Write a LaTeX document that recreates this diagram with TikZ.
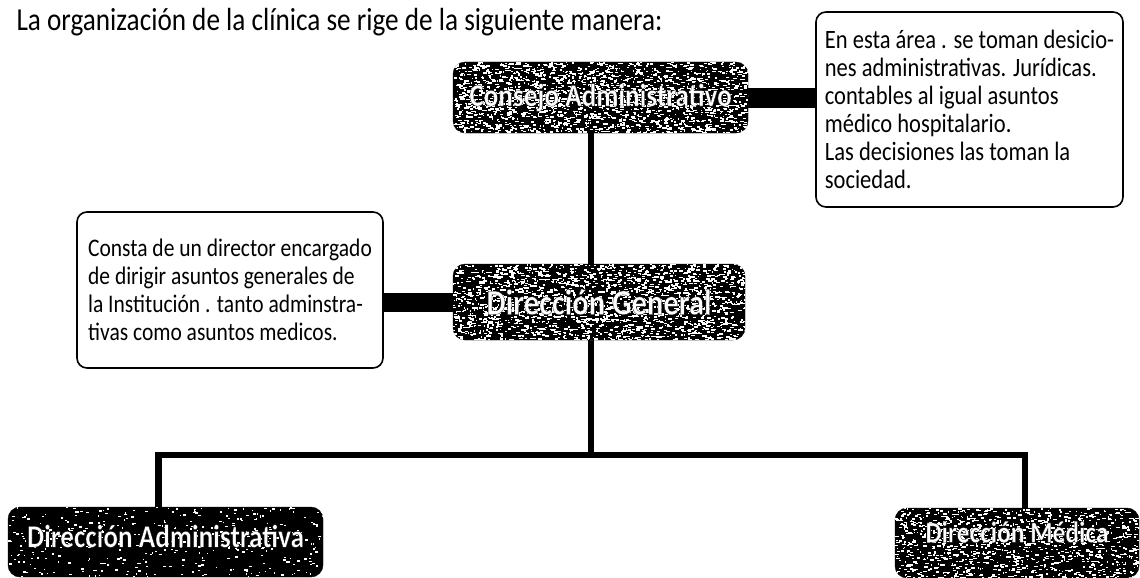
\documentclass[tikz,border=0pt]{standalone}
\usepackage{fontspec}
\setmainfont{Carlito}[FakeStretch=0.85]
\newfontfamily\boxfont{Carlito Bold}[FakeStretch=0.85, FakeBold=0.7]
\usetikzlibrary{backgrounds,calc}
\newcommand\mkspecks[4]{%
  \begin{scope}
    \clip[rounded corners=12pt] (#1.north west) rectangle (#1.south east);
    \pgfmathsetseed{#4}
    \path (#1.north west) coordinate (spkA) (#1.south east) coordinate (spkB);
    \foreach \spki in {1,...,#2}{%
      \pgfmathsetmacro\spkx{rnd}%
      \pgfmathsetmacro\spky{rnd}%
      \pgfmathsetmacro\spkw{0.8+rnd*#3}%
      \pgfmathsetmacro\spkh{0.7+rnd*1.4}%
      \fill[white] ($(spkA)!\spkx!(spkA -| spkB)$) ++(0,{\spky*(\spkyH)}) rectangle ++(\spkw,\spkh);
    }
  \end{scope}}
\begin{document}
\begin{tikzpicture}[x=1pt,y=-1pt,
  darkbox/.style n args={2}{draw=black, fill=black, rounded corners=12pt,
    minimum width=#1pt, minimum height=#2pt, inner sep=0pt},
  boxtext/.style={text=white, inner sep=0pt, font=\boxfont\fontsize{#1}{#1}\selectfont},
  notebox/.style n args={3}{draw=black, line width=1.6pt, fill=white, rounded corners=10pt,
    minimum width=#1pt, minimum height=#2pt, inner sep=0pt, align=left,
    font=\fontsize{#3}{28}\selectfont},
  bar/.style={line width=#1pt, draw=black},
  conn/.style={line width=6.5pt, draw=black, line join=miter}
]
\useasboundingbox (0,0) rectangle (1140,578);

\node[anchor=west, font=\fontsize{32}{34}\selectfont] (title) at (13,22)
  {La organización de la clínica se rige de la siguiente manera:};

\node[darkbox={295}{71}] (cons) at (600.5,97.5) {};
\node[darkbox={292}{76}] (dg) at (599,302) {};
\node[darkbox={315}{70}] (da) at (165.5,542) {};
\node[darkbox={244}{70}] (dm) at (1017,543) {};

\def\spkyH{71}\mkspecks{cons}{2000}{3.4}{11}
\def\spkyH{76}\mkspecks{dg}{2100}{3.4}{23}
\def\spkyH{70}\mkspecks{da}{380}{2.5}{37}
\def\spkyH{70}\mkspecks{dm}{1150}{3.2}{51}

\node[boxtext=32] (consT) at (cons) {\special{pdf:code 0 0 0 RG}Consejo Administrativo};
\node[boxtext=36] (dgT) at (dg) {\special{pdf:code 0 0 0 RG}Dirección General};
\node[boxtext=32] (daT) at ($(da)+(0,-6)$) {\special{pdf:code 0 0 0 RG}Dirección Administrativa};
\node[boxtext=30] (dmT) at ($(dm)+(0,-11)$) {\special{pdf:code 0 0 0 RG}Dirección Médica};

\node[notebox={307}{195}{26.5}] (rbox) at (969.5,109.5)
  {En esta área . se toman desicio-\\nes administrativas. Jurídicas.\\contables al igual asuntos\\médico hospitalario.\\Las decisiones las toman la\\sociedad.};
\node[notebox={306}{156}{25.3}] (lbox) at (230,290)
  {Consta de un director encargado\\de dirigir asuntos generales de\\la Institución . tanto adminstra-\\tivas como asuntos medicos.};

\coordinate (vx) at (591,0);
\coordinate (jm) at (591,455);
\coordinate (jl) at (158.5,455);
\coordinate (jr) at (1025,455);

\begin{scope}[on background layer]
  \draw[bar=20] (cons.east) -- (cons.east -| rbox.west);
  \draw[bar=19] (dg.west) -- (dg.west -| lbox.east);
  \draw[conn] (cons.south -| vx) -- (dg.north -| vx);
  \draw[conn] (dg.south -| vx) -- (jm);
  \draw[conn] (da.north -| jl) -- (jl) -- (jr) -- (dm.north -| jr);
\end{scope}
\end{tikzpicture}
\end{document}
